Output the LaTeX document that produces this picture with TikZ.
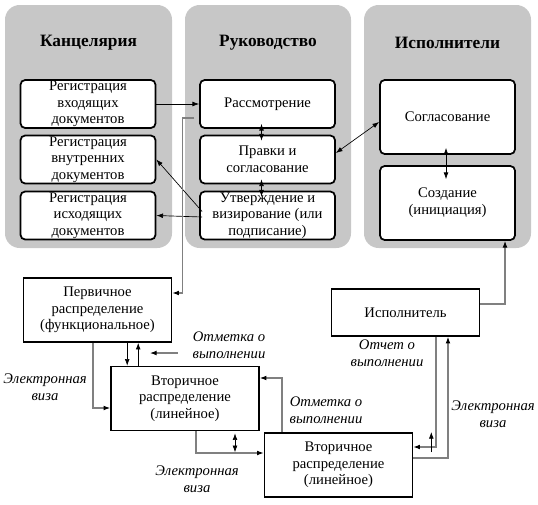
\documentclass[tikz,border=0pt]{standalone}
\usepackage{fontspec}
\setmainfont{Liberation Serif}
\usetikzlibrary{arrows.meta,calc,positioning}
\definecolor{PanelGray}{RGB}{199,199,199}
\definecolor{LineGray}{RGB}{128,128,128}

\begin{document}
\begin{tikzpicture}[x=.75pt,y=-.75pt,>={Latex[length=5pt,width=3.6pt]},
  font=\fontsize{11}{12.5}\selectfont,
  panel/.style={fill=PanelGray,rounded corners=11pt},
  colhead/.style={font=\fontsize{13}{15}\selectfont\bfseries},
  stagebox/.style={draw,line width=1.3pt,fill=white,rounded corners=3.5pt,align=center,
    inner xsep=2pt,inner ysep=0pt,minimum width=101.25pt,minimum height=36pt},
  distbox/.style={draw,line width=1.2pt,fill=white,align=center,inner sep=1pt,
    minimum width=111pt,minimum height=48pt},
  annot/.style={font=\fontsize{11}{12.5}\selectfont\itshape,align=center},
  arr/.style={->,line width=.5pt},
  darr/.style={<->,line width=.5pt},
  garr/.style={-{Latex[length=5pt,width=3.6pt,color=black]},draw=LineGray,line width=.8pt}]
  \useasboundingbox (0,0) rectangle (538,504);
  \fill[panel] (5,5) rectangle (172,248);
  \fill[panel] (185,5) rectangle (351,248);
  \fill[panel] (364,5) rectangle (531,248);
  \node[colhead] (kanc) at (88.5,43) {Канцелярия};
  \node[colhead] (ruk) at (268,43) {Руководство};
  \node[colhead] (isp) at (447.5,43) {Исполнители};

  \node[stagebox] (vhod) at (88,104) {Регистрация\\входящих\\документов};
  \node[stagebox] (vnutr) at (88,159.5) {Регистрация\\внутренних\\документов};
  \node[stagebox] (ishod) at (88,215.5) {Регистрация\\исходящих\\документов};
  \node[stagebox] (rassm) at (267.5,104) {Рассмотрение};
  \node[stagebox] (pravki) at (267.5,159.5) {Правки и\\согласование};
  \node[stagebox] (utv) at (267.5,215.5) {Утверждение и\\визирование (или\\подписание)};
  \node[stagebox,minimum height=55.5pt] (soglas) at (447.5,117) {Согласование};
  \node[stagebox,minimum height=55.5pt] (sozd) at (447.5,203) {Создание\\(инициация)};

  \node[distbox] (perv) at (97.5,310) {Первичное\\распределение\\(функциональное)};
  \node[distbox] (vtor1) at (185,398.5) {Вторичное\\распределение\\(линейное)};
  \node[distbox] (vtor2) at (338.5,465) {Вторичное\\распределение\\(линейное)};
  \node[distbox,minimum height=35.25pt] (ispol) at (405.5,312.5) {Исполнитель};

  \node[annot] (otm1) at (229,345) {Отметка о\\выполнении};
  \node[annot] (viza1) at (45,387) {Электронная\\виза};
  \node[annot] (viza2) at (197,479) {Электронная\\виза};
  \node[annot] (otm2) at (326,410) {Отметка о\\выполнении};
  \node[annot] (otchet) at (387,353) {Отчет о\\выполнении};
  \node[annot] (viza3) at (493,414) {Электронная\\виза};

  \draw[arr] (vhod.east) -- (rassm.west);
  \draw[darr] ($(rassm.south)+(-6,-5)$) -- ($(pravki.north)+(-6,6)$);
  \draw[darr] ($(pravki.south)+(-6,-5)$) -- ($(utv.north)+(-6,6)$);
  \draw[darr] ($(pravki.east)+(0,-6.5)$) -- ($(soglas.west)+(0,5)$);
  \draw[darr] ($(soglas.south)+(-1.5,-7)$) -- ($(sozd.north)+(-1.5,14)$);
  \draw[arr] ($(utv.west)+(3,1.5)$) -- (ishod.east);
  \draw[arr] ($(utv.west)+(3,-4)$) -- (vnutr.east);
  \draw[garr] ($(rassm.west)+(-5,14)$) -- ++(-12,0) |- ($(perv.east)+(0,-17)$);

  \draw[arr] ($(perv.south -| vtor1.west)+(17,0)$) -- ($(vtor1.north west)+(17,0)$);
  \draw[arr] ($(vtor1.north west)+(28,0)$) -- ($(perv.south -| vtor1.west)+(28,0)$);
  \draw[garr] ($(otm1.west)+(-10,8)$) -- ++(-28,0);
  \draw[garr] ($(perv.south)+(-4.5,0)$) |- ($(vtor1.west)+(0,9.5)$);
  \draw[garr] ($(vtor1.south)+(11,0)$) |- ($(vtor2.west)+(0,-12)$);
  \draw[darr] ($(vtor1.south)+(50,2)$) -- ++(0,19);
  \draw[garr] ($(vtor2.north)+(-56.5,0)$) |- ($(vtor1.east)+(0,-20.5)$);
  \draw[garr] ($(ispol.east)+(0,-8.5)$) -| ($(sozd.south)+(57.5,0)$);
  \draw[garr] ($(ispol.south)+(30.5,0)$) |- ($(vtor2.east)+(0,-18)$);
  \draw[garr] ($(vtor2.east)+(0,-7)$) -| ($(ispol.south)+(42.5,0)$);
  \draw[arr] ($(vtor2.east)+(18,-13)$) -- ++(0,-20);
\end{tikzpicture}
\end{document}
